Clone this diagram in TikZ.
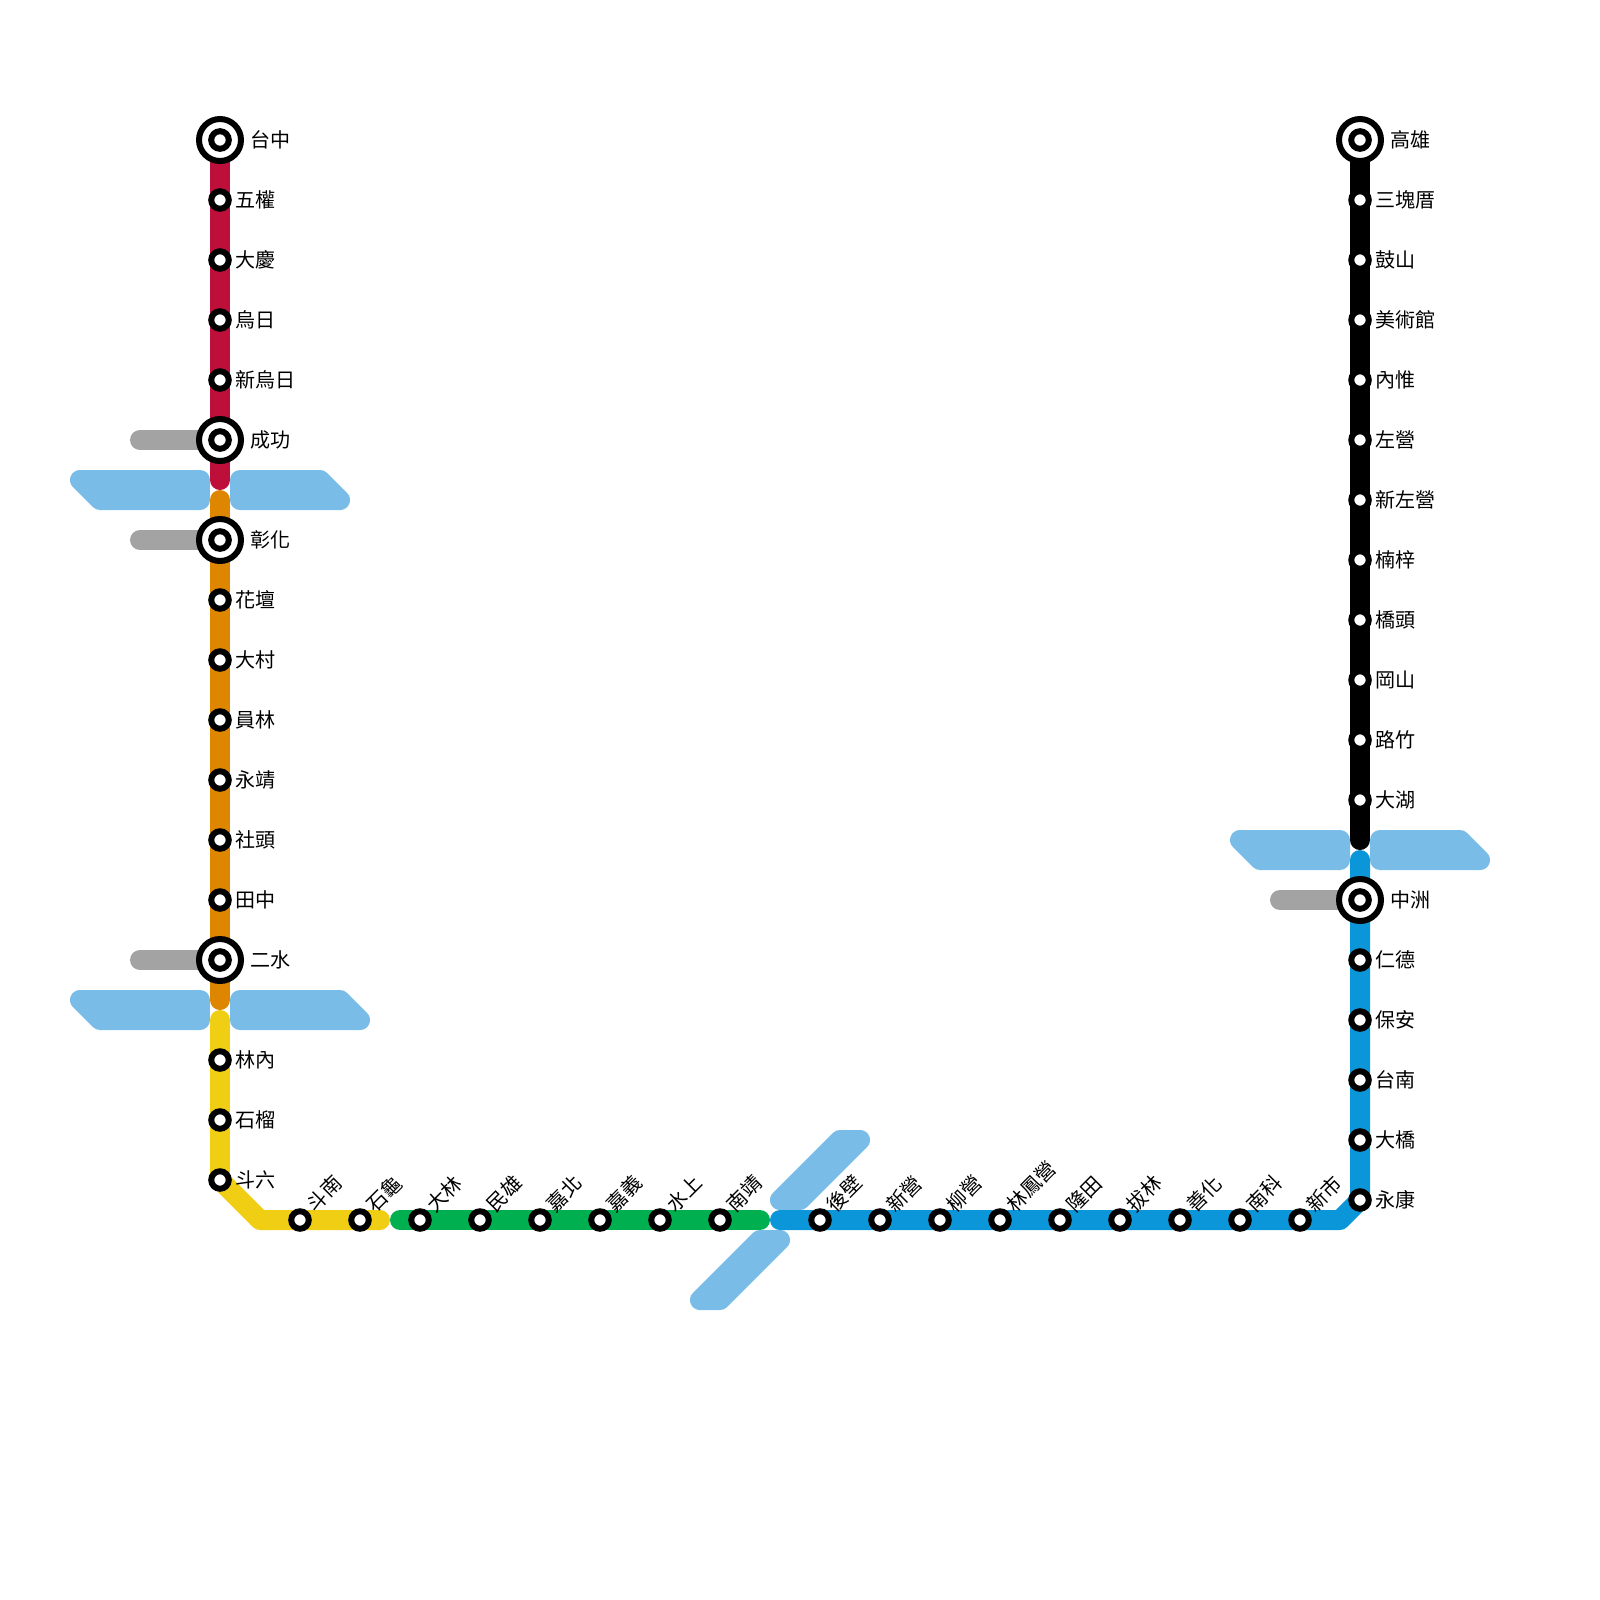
\documentclass[tikz,border=0pt]{standalone}
\usepackage{fontspec}
\usepackage{xcolor}
\usetikzlibrary{positioning,backgrounds}
\newfontfamily\cjk{Noto Sans CJK TC}
\definecolor{redcol}{HTML}{BD0F3A}
\definecolor{orangecol}{HTML}{DF8600}
\definecolor{yellowcol}{HTML}{F0CE14}
\definecolor{greencol}{HTML}{00B050}
\definecolor{bluecol}{HTML}{0A96D8}
\definecolor{panelcol}{HTML}{7ABCE8}
\definecolor{linkcol}{HTML}{A3A3A3}

\begin{document}
\begin{tikzpicture}[
  x=0.02cm, y=-0.02cm,
  stn/.style={circle, draw=black, line width=0.12cm, fill=white, inner sep=0pt,
              minimum size=0.35cm},
  hub/.style={circle, draw=black, line width=0.12cm, fill=white, inner sep=0pt,
              minimum size=0.84cm,
              path picture={\draw[line width=0.12cm] (path picture bounding box.center) circle (8.8);}},
  lab/.style={font=\cjk\fontsize{11.4}{12}\selectfont, inner sep=0pt, text=black},
  vlab/.style={lab, rotate=45, anchor=west},
  trackline/.style={line width=0.4cm, line cap=round, line join=round},
  panel/.style={draw=panelcol, fill=panelcol, line width=0.4cm, line join=round}]

  \useasboundingbox (0,0) rectangle (1600,1600);

  % left column
  \foreach \n/\y/\lab in {wuquan/200/五權, daqing/260/大慶, wuri/320/烏日, xinwuri/380/新烏日,
      huatan/600/花壇, dacun/660/大村, yuanlin/720/員林, yongjing/780/永靖,
      shetou/840/社頭, tianzhong/900/田中, linnei/1060/林內, shiliu/1120/石榴, douliu/1180/斗六} {
    \node[stn] (\n) at (220,\y) {};
    \node[lab, right=0.6mm of \n] (\n-l) {\lab};
  }
  \foreach \n/\y/\lab in {taichung/140/台中, chenggong/440/成功, changhua/540/彰化, ershui/960/二水} {
    \node[hub] (\n) at (220,\y) {};
    \node[lab, right=1.2mm of \n] (\n-l) {\lab};
  }

  % bottom row
  \foreach \n/\x/\lab in {dounan/300/斗南, shigui/360/石龜, dalin/420/大林, minxiong/480/民雄,
      jiabei/540/嘉北, jiayi/600/嘉義, shuishang/660/水上, nanjing/720/南靖,
      houbi/820/後壁, xinying/880/新營, liuying/940/柳營, linfengying/1000/林鳳營,
      longtian/1060/隆田, balin/1120/拔林, shanhua/1180/善化, nanke/1240/南科, xinshi/1300/新市} {
    \node[stn] (\n) at (\x,1220) {};
    \path (\n) ++(10,-12) node[vlab] (\n-l) {\lab};
  }

  % right column
  \foreach \n/\y/\lab in {sankuaicuo/200/三塊厝, gushan/260/鼓山, meishuguan/320/美術館, neiwei/380/內惟,
      zuoying/440/左營, xinzuoying/500/新左營, nanzi/560/楠梓, qiaotou/620/橋頭, gangshan/680/岡山,
      luzhu/740/路竹, dahu/800/大湖, rende/960/仁德, baoan/1020/保安, tainan/1080/台南,
      daqiao/1140/大橋, yongkang/1200/永康} {
    \node[stn] (\n) at (1360,\y) {};
    \node[lab, right=0.6mm of \n] (\n-l) {\lab};
  }
  \foreach \n/\y/\lab in {kaohsiung/140/高雄, zhongzhou/900/中洲} {
    \node[hub] (\n) at (1360,\y) {};
    \node[lab, right=1.2mm of \n] (\n-l) {\lab};
  }

  \coordinate (redend) at (220,480);
  \coordinate (orangetop) at (220,500);
  \coordinate (orangeend) at (220,1000);
  \coordinate (yellowtop) at (220,1020);
  \coordinate (yellowturn) at (260,1220);
  \coordinate (yellowend) at (380,1220);
  \coordinate (greentop) at (400,1220);
  \coordinate (greenend) at (760,1220);
  \coordinate (bluetop) at (780,1220);
  \coordinate (blueturn) at (1340,1220);
  \coordinate (bluehead) at (1360,860);
  \coordinate (blackend) at (1360,840);
  \coordinate (linkA) at (140,440);
  \coordinate (linkB) at (140,540);
  \coordinate (linkC) at (140,960);
  \coordinate (linkD) at (1280,900);

  \begin{scope}[on background layer]
    \draw[panel] (80,480) -- (200,480) -- (200,500) -- (100,500) -- cycle;
    \draw[panel] (240,480) -- (320,480) -- (340,500) -- (240,500) -- cycle;
    \draw[panel] (80,1000) -- (200,1000) -- (200,1020) -- (100,1020) -- cycle;
    \draw[panel] (240,1000) -- (340,1000) -- (360,1020) -- (240,1020) -- cycle;
    \draw[panel] (1240,840) -- (1340,840) -- (1340,860) -- (1260,860) -- cycle;
    \draw[panel] (1380,840) -- (1460,840) -- (1480,860) -- (1380,860) -- cycle;
    \draw[panel] (780,1200) -- (840,1140) -- (860,1140) -- (800,1200) -- cycle;
    \draw[panel] (700,1300) -- (760,1240) -- (780,1240) -- (720,1300) -- cycle;

    \foreach \n/\m in {linkA/chenggong, linkB/changhua, linkC/ershui, linkD/zhongzhou}
      \draw[trackline, linkcol] (\n) -- (\m.center);

    \draw[trackline, redcol] (taichung.center) -- (redend);
    \draw[trackline, orangecol] (orangetop) -- (orangeend);
    \draw[trackline, yellowcol] (yellowtop) -- (douliu.center) -- (yellowturn) -- (yellowend);
    \draw[trackline, greencol] (greentop) -- (greenend);
    \draw[trackline, bluecol] (bluetop) -- (blueturn) -- (yongkang.center) -- (bluehead);
    \draw[trackline, black] (kaohsiung.center) -- (blackend);
  \end{scope}
\end{tikzpicture}
\end{document}
